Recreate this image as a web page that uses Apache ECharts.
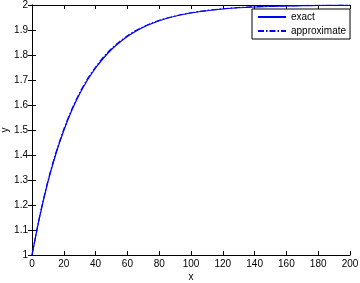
<!DOCTYPE html>
<html><head><meta charset="utf-8">
<script src="https://cdn.jsdelivr.net/npm/echarts@6/dist/echarts.min.js"></script>
<style>html,body{margin:0;padding:0;background:#fff}#c{width:360px;height:283px}</style>
</head><body><div id="c"></div>
<script>
var xValues = [0,5,10,15,20,25,30,35,40,45,50,55,60,65,70,75,80,85,90,95,100,110,120,130,140,150,160,170,180,190,200];
var exactY = [1.000,1.158,1.292,1.404,1.498,1.578,1.645,1.701,1.748,1.788,1.822,1.850,1.874,1.894,1.911,1.925,1.937,1.947,1.955,1.962,1.968,1.977,1.984,1.989,1.992,1.994,1.996,1.997,1.998,1.999,1.999];
var approxY = [1.000,1.160,1.296,1.408,1.503,1.583,1.649,1.706,1.752,1.792,1.826,1.853,1.877,1.897,1.913,1.927,1.939,1.948,1.956,1.963,1.969,1.978,1.985,1.990,1.993,1.995,1.997,1.998,1.999,1.999,2.000];
var seriesNames = ['exact','approximate'];
var font = 'Liberation Sans, Arial, sans-serif';
function pairs(ys){ return xValues.map(function(x,i){return [x, ys[i]];}); }
var chart = echarts.init(document.getElementById('c'), null, {renderer:'canvas'});
var axisLine = {show:true, lineStyle:{color:'#000', width:1}};
chart.setOption({
  animation:false,
  backgroundColor:'#fff',
  grid:{left:32, right:10, top:5, bottom:28, containLabel:false, outerBoundsMode:'none'},
  legend:{
    data:[{name:'exact'},{name:'approximate'}],
    orient:'vertical', left:252, top:9, width:94,
    itemWidth:28, itemHeight:10, itemGap:4,
    padding:[3,4,3,5],
    borderColor:'#000', borderWidth:1, backgroundColor:'#fff',
    itemStyle:{opacity:0},
    textStyle:{fontFamily:font, fontSize:10, color:'#000'}
  },
  xAxis:[{
    type:'value', min:0, max:200, interval:20, position:'bottom',
    name:'x', nameLocation:'middle', nameGap:17, nameMoveOverlap:false,
    nameTextStyle:{fontFamily:font, fontSize:10, color:'#000'},
    axisLine:axisLine, axisTick:{show:true, inside:true, length:4, lineStyle:{color:'#000'}},
    axisLabel:{fontFamily:font, fontSize:10, color:'#000', margin:4},
    splitLine:{show:false}
  },{
    type:'value', min:0, max:200, interval:20, position:'top',
    axisLine:axisLine, axisTick:{show:true, inside:true, length:4, lineStyle:{color:'#000'}},
    axisLabel:{show:false}, splitLine:{show:false}
  }],
  yAxis:[{
    type:'value', min:1, max:2, interval:0.1, position:'left',
    name:'y', nameLocation:'middle', nameGap:22, nameMoveOverlap:false,
    nameTextStyle:{fontFamily:font, fontSize:10, color:'#000'},
    axisLine:axisLine, axisTick:{show:true, inside:true, length:4, lineStyle:{color:'#000'}},
    axisLabel:{fontFamily:font, fontSize:10, color:'#000', margin:4,
      formatter:function(v){return String(Math.round(v*10)/10);}},
    splitLine:{show:false}
  },{
    type:'value', min:1, max:2, interval:0.1, position:'right',
    axisLine:axisLine, axisTick:{show:true, inside:true, length:4, lineStyle:{color:'#000'}},
    axisLabel:{show:false}, splitLine:{show:false}
  }],
  series:[{
    name:seriesNames[0], type:'line', data:pairs(exactY), smooth:0.3,
    symbol:'none', xAxisIndex:0, yAxisIndex:0,
    lineStyle:{color:'#0000ff', width:1.2, type:'solid'}, itemStyle:{color:'#0000ff'}
  },{
    name:seriesNames[1], type:'line', data:pairs(approxY), smooth:0.3,
    symbol:'none', xAxisIndex:0, yAxisIndex:0,
    lineStyle:{color:'#0000ff', width:1.2, type:[6,2,1.5,2]}, itemStyle:{color:'#0000ff'}
  }]
});
</script></body></html>
